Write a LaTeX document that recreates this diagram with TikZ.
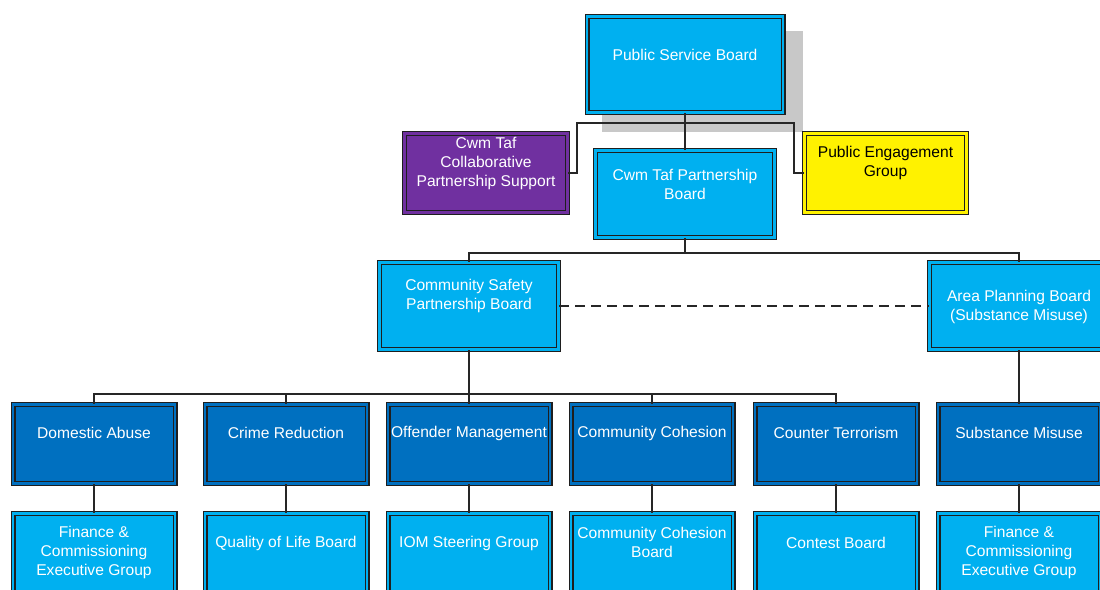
\documentclass[tikz,border=0pt]{standalone}
\usepackage{fontspec}
\setmainfont{Liberation Sans}
\usetikzlibrary{positioning}

\definecolor{lightblue}{HTML}{00B0F0}
\definecolor{darkblue}{HTML}{0070C0}
\definecolor{supportpurple}{HTML}{7030A0}
\definecolor{shadowgray}{HTML}{C8C8C8}
\definecolor{edgegray}{HTML}{1E1E1E}

\tikzset{
        orgbox/.style={draw=edgegray, fill=#1, double=#1, double distance=2.6pt,
                       line width=1.2pt, inner sep=0pt,
                       minimum width=162pt, minimum height=79pt},
        widebox/.style={orgbox=#1, minimum width=179pt, minimum height=87pt},
        boxtext/.style={text=white, align=center, inner sep=0pt,
                        font=\fontsize{15.6}{19}\selectfont},
        link/.style={draw=black!85, line width=1.5pt}
}

\begin{document}
\begin{tikzpicture}[x=1pt, y=-1pt]
        \clip (0, 0) rectangle (1100, 589);

        % shadow behind the board
        \fill [shadowgray] (602, 31) rectangle (803, 132);

        % top level
        \node [orgbox=lightblue, minimum width=196pt, minimum height=96pt] (psb) at (685, 64.5) {};
        \node [boxtext] (psb-text) at ([yshift=9.5pt]psb.center) {Public Service Board};

        \node [widebox=lightblue] (ctpb) at (685, 194) {};
        \node [boxtext] (ctpb-text) at ([yshift=10pt]ctpb.center) {Cwm Taf Partnership\\Board};

        \node [orgbox=supportpurple, minimum width=163pt] (support) at (486, 173) {};
        \node [boxtext] (support-text) at ([yshift=9.5pt]support.center)
              {Cwm Taf\\Collaborative\\Partnership Support};

        \node [orgbox=yellow] (engage) at (885.5, 173) {};
        \node [boxtext, text=black] (engage-text) at ([yshift=10pt]engage.center)
              {Public Engagement\\Group};

        % second level
        \node [widebox=lightblue] (cspb) at (469, 306) {};
        \node [boxtext] (cspb-text) at ([yshift=10pt]cspb.center) {Community Safety\\Partnership Board};

        \node [widebox=lightblue] (apb) at (1019, 306) {};
        \node [boxtext] (apb-text) at ([yshift=-0.5pt]apb.center) {Area Planning Board\\(Substance Misuse)};

        % themes
        \node [orgbox=darkblue] (abuse) at (94, 444) {};
        \node [orgbox=darkblue] (crime) at (286, 444) {};
        \node [orgbox=darkblue] (offender) at (469, 444) {};
        \node [orgbox=darkblue] (cohesion) at (652, 444) {};
        \node [orgbox=darkblue] (terror) at (836, 444) {};
        \node [orgbox=darkblue] (misuse) at (1019, 444) {};
        \node [boxtext] (abuse-text) at ([yshift=11pt]abuse.center) {Domestic Abuse};
        \node [boxtext] (crime-text) at ([yshift=11pt]crime.center) {Crime Reduction};
        \node [boxtext] (offender-text) at ([yshift=11pt]offender.center) {Offender Management};
        \node [boxtext] (cohesion-text) at ([yshift=11pt]cohesion.center) {Community Cohesion};
        \node [boxtext] (terror-text) at ([yshift=11pt]terror.center) {Counter Terrorism};
        \node [boxtext] (misuse-text) at ([yshift=11pt]misuse.center) {Substance Misuse};

        % groups
        \node [orgbox=lightblue, below=29pt of abuse] (abuse-group) {};
        \node [orgbox=lightblue, below=29pt of crime] (crime-group) {};
        \node [orgbox=lightblue, below=29pt of offender] (offender-group) {};
        \node [orgbox=lightblue, below=29pt of cohesion] (cohesion-group) {};
        \node [orgbox=lightblue, below=29pt of terror] (terror-group) {};
        \node [orgbox=lightblue, below=29pt of misuse] (misuse-group) {};
        \node [boxtext] (abuse-group-text) at ([yshift=1pt]abuse-group.center)
              {Finance \&\\Commissioning\\Executive Group};
        \node [boxtext] (crime-group-text) at ([yshift=10pt]crime-group.center) {Quality of Life Board};
        \node [boxtext] (offender-group-text) at ([yshift=10pt]offender-group.center) {IOM Steering Group};
        \node [boxtext] (cohesion-group-text) at ([yshift=10.5pt]cohesion-group.center)
              {Community Cohesion\\Board};
        \node [boxtext] (terror-group-text) at ([yshift=10pt]terror-group.center) {Contest Board};
        \node [boxtext] (misuse-group-text) at ([yshift=1pt]misuse-group.center)
              {Finance \&\\Commissioning\\Executive Group};

        % connectors
        \coordinate (topleft) at (577, 123);
        \coordinate (topright) at (794, 123);
        \coordinate (midbar) at (685, 253);
        \coordinate (lowbar) at (469, 394);

        \draw [link] (psb.south) -- (psb.south |- ctpb.north);
        \draw [link] (support.east) -| (topleft) -- (topright) |- (engage.west);

        \draw [link] (ctpb.south) -- (midbar);
        \draw [link] (cspb.north) |- (midbar -| apb.north) -- (apb.north);
        \draw [link, dash pattern=on 10pt off 6pt] (cspb.east) -- (apb.west);

        \draw [link] (cspb.south) -- (lowbar);
        \draw [link] (abuse.north) |- (lowbar -| terror.north) -- (terror.north);
        \draw [link] (crime.north) -- (crime.north |- lowbar);
        \draw [link] (offender.north) -- (lowbar);
        \draw [link] (cohesion.north) -- (cohesion.north |- lowbar);
        \draw [link] (apb) -- (misuse);

        \draw [link] (abuse) -- (abuse-group);
        \draw [link] (crime) -- (crime-group);
        \draw [link] (offender) -- (offender-group);
        \draw [link] (cohesion) -- (cohesion-group);
        \draw [link] (terror) -- (terror-group);
        \draw [link] (misuse) -- (misuse-group);
\end{tikzpicture}
\end{document}
